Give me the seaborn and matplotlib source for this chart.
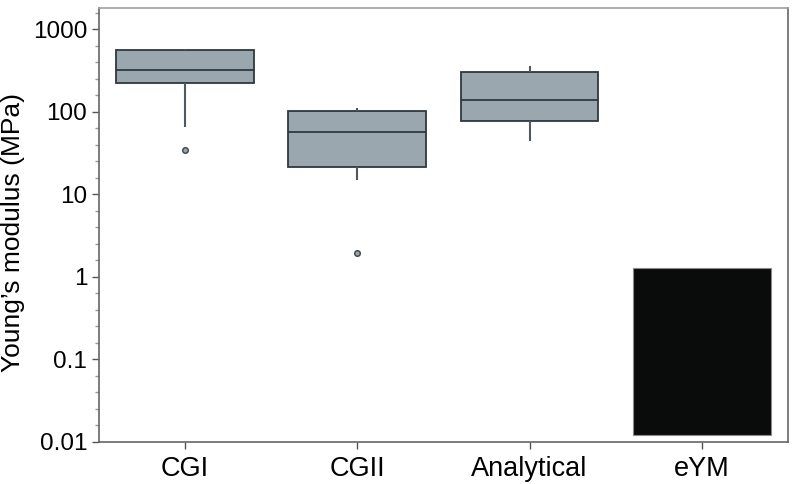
import matplotlib
matplotlib.use("Agg")
import matplotlib.pyplot as plt
import matplotlib.ticker as mticker
import seaborn as sns
import pandas as pd
import numpy as np

# categories on the x axis
categories = ["CGI", "CGII", "Analytical", "eYM"]

# Young's modulus values (MPa)
cgi = [34, 66, 224, 270, 319, 420, 558, 570, 583]
cgii = [1.95, 15.1, 21.5, 35, 57, 80, 102, 106, 111]
analytical = [44.5, 77.6, 138, 304, 360]
eym = [1.28]

y_ticks = [0.01, 0.1, 1, 10, 100, 1000]
y_ticklabels = ["0.01", "0.1", "1", "10", "100", "1000"]

box_df = pd.DataFrame({
    "group": ["CGI"] * len(cgi) + ["CGII"] * len(cgii) + ["Analytical"] * len(analytical),
    "E": cgi + cgii + analytical,
})
bar_df = pd.DataFrame({"group": ["eYM"] * len(eym), "E": eym})

plt.rcParams['font.family'] = ['Liberation Sans', 'DejaVu Sans']

fig, ax = plt.subplots(figsize=(7.99, 4.84), dpi=100)
ax.set_yscale("log")

line_c = "#2e383d"
sns.boxplot(data=box_df, x="group", y="E", order=categories, ax=ax, log_scale=True,
            width=0.8, color="#9aa7ae", linecolor=line_c, linewidth=1.3,
            saturation=1, showcaps=False,
            whiskerprops=dict(color="#50595e", linewidth=1.5),
            flierprops=dict(marker="o", markersize=4, markerfacecolor="#9aa4a8",
                            markeredgecolor="#454e53", markeredgewidth=1.1))
sns.barplot(data=bar_df, x="group", y="E", order=categories, ax=ax, log_scale=True,
            width=0.8, color="#0a0c0b", saturation=1, errorbar=None,
            edgecolor="#8a8a8a", linewidth=0.8, bottom=0.0122)

ax.set_ylim(0.01, 1800)
ax.set_xlim(-0.5, 3.5)
ax.set_yticks(y_ticks)
ax.set_yticklabels(y_ticklabels)
ax.yaxis.set_minor_locator(mticker.FixedLocator(10 ** np.arange(-2, 3.3, 0.2)))
ax.yaxis.set_minor_formatter(mticker.NullFormatter())

ax.set_xlabel("")
ax.set_ylabel("Young\u2019s modulus (MPa)", fontsize=19)
ax.yaxis.set_label_coords(-0.108, 0.482)
ax.tick_params(axis="both", colors="#555555", labelcolor="black",
               length=5, width=1)
ax.tick_params(axis="y", labelsize=17.5)
ax.tick_params(axis="x", labelsize=19.5, pad=5)
ax.tick_params(axis="y", which="minor", length=3, width=1, colors="#999999")

for name, sp in ax.spines.items():
    sp.set_color("#666666")
    sp.set_linewidth(1.2)
ax.spines["top"].set_color("#a0a0a0")

fig.subplots_adjust(left=0.124, right=0.986, top=0.983, bottom=0.087)
fig.savefig("out.png", dpi=100)
